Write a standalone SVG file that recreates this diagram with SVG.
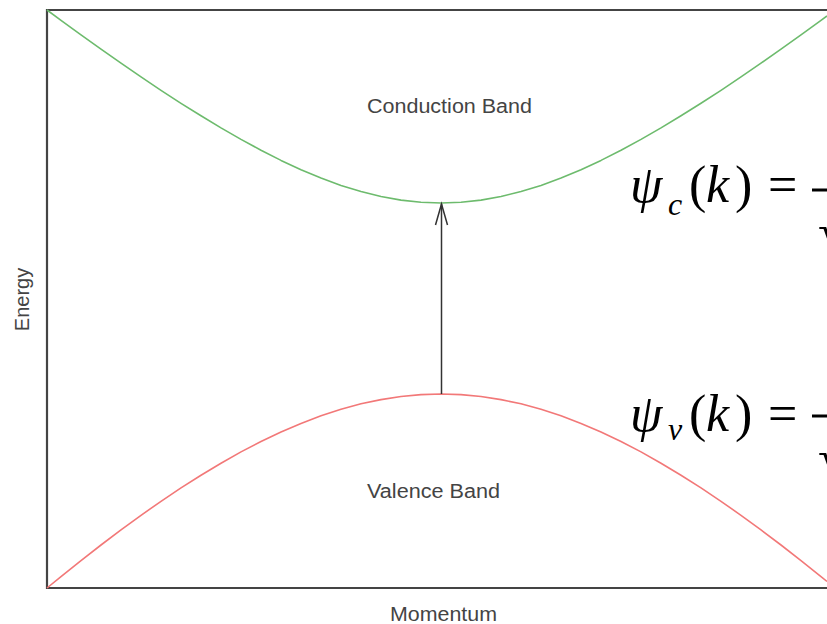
<svg xmlns="http://www.w3.org/2000/svg" width="827" height="624" viewBox="0 0 827 624">
  <style>
    .axis { stroke: #444; stroke-width: 2.2; fill: none; }
    .lbl { font-family: "Liberation Sans", Arial, sans-serif; font-size: 20px; fill: #444; text-anchor: middle; }
    .eq { font-family: "Liberation Serif", "Times New Roman", serif; font-size: 52px; fill: #000; }
    .it { font-style: italic; }
    .sub { font-family: "Liberation Serif", "Times New Roman", serif; font-size: 32px; font-style: italic; fill: #000; }
    .band { fill: none; stroke-width: 1.6; stroke-linejoin: round; }
  </style>
  <rect width="827" height="624" fill="#fff"/>
  <g id="axes">
    <polyline class="axis" points="827,10 47,10 47,588 827,588"/>
    <text class="lbl" x="443.5" y="621" textLength="107" lengthAdjust="spacingAndGlyphs">Momentum</text>
    <text class="lbl" transform="translate(29,299.5) rotate(-90)" x="0" y="0">Energy</text>
  </g>
  <g id="conduction-band">
    <polyline class="band" stroke="#6dbb6d" points="47,10 61,20.3 81,34.8 101,49.1 121,63.2 141,76.9 161,90.3 181,103.3 201,115.8 221,127.9 241,139.4 261,150.2 281,160.4 301,169.7 321,178 341,185.4 361,191.5 381,196.5 401,200.1 421,202.3 441,203 461,202.3 481,200.1 501,196.5 521,191.5 541,185.4 561,178 581,169.7 601,160.4 621,150.2 641,139.4 661,127.9 681,115.8 701,103.3 721,90.3 741,76.9 761,63.2 781,49.1 801,34.8 821,20.3 827,15.9"/>
    <text class="lbl" x="449.5" y="113" textLength="165" lengthAdjust="spacingAndGlyphs">Conduction Band</text>
  </g>
  <g id="valence-band">
    <polyline class="band" stroke="#f27878" points="47,588 61,576.6 81,560.6 101,545 121,529.9 141,515.3 161,501.3 181,487.9 201,475.2 221,463.2 241,451.9 261,441.5 281,432 301,423.4 321,415.8 341,409.2 361,403.8 381,399.6 401,396.5 421,394.6 441,394 461,394.6 481,396.5 501,399.6 521,403.8 541,409.2 561,415.8 581,423.4 601,432 621,441.5 641,451.9 661,463.2 681,475.2 701,487.9 721,501.3 741,515.3 761,529.9 781,545 801,560.6 821,576.6 827,581.4"/>
    <text class="lbl" x="433.5" y="498" textLength="133" lengthAdjust="spacingAndGlyphs">Valence Band</text>
  </g>
  <g id="connectors">
    <line x1="441.5" y1="394" x2="441.5" y2="204" stroke="#333" stroke-width="1.5"/>
    <polyline points="435.5,225 441.5,204 447.5,225" fill="none" stroke="#333" stroke-width="1.5"/>
  </g>
  <g id="eq-conduction">
    <text class="eq it" x="630" y="202">ψ</text>
    <text class="sub" x="668" y="215">c</text>
    <text class="eq" x="689" y="202">(</text>
    <text class="eq it" x="706" y="202">k</text>
    <text class="eq" x="735" y="202">)</text>
    <text class="eq" x="768" y="202">=</text>
    <line x1="812" y1="190" x2="827" y2="190" stroke="#000" stroke-width="3"/>
    <text class="eq" x="818" y="250">√</text>
  </g>
  <g id="eq-valence">
    <text class="eq it" x="630" y="431">ψ</text>
    <text class="sub" x="668" y="440">v</text>
    <text class="eq" x="689" y="431">(</text>
    <text class="eq it" x="706" y="431">k</text>
    <text class="eq" x="735" y="431">)</text>
    <text class="eq" x="768" y="431">=</text>
    <line x1="812" y1="416" x2="827" y2="416" stroke="#000" stroke-width="3"/>
    <text class="eq" x="818" y="476">√</text>
  </g>
</svg>
